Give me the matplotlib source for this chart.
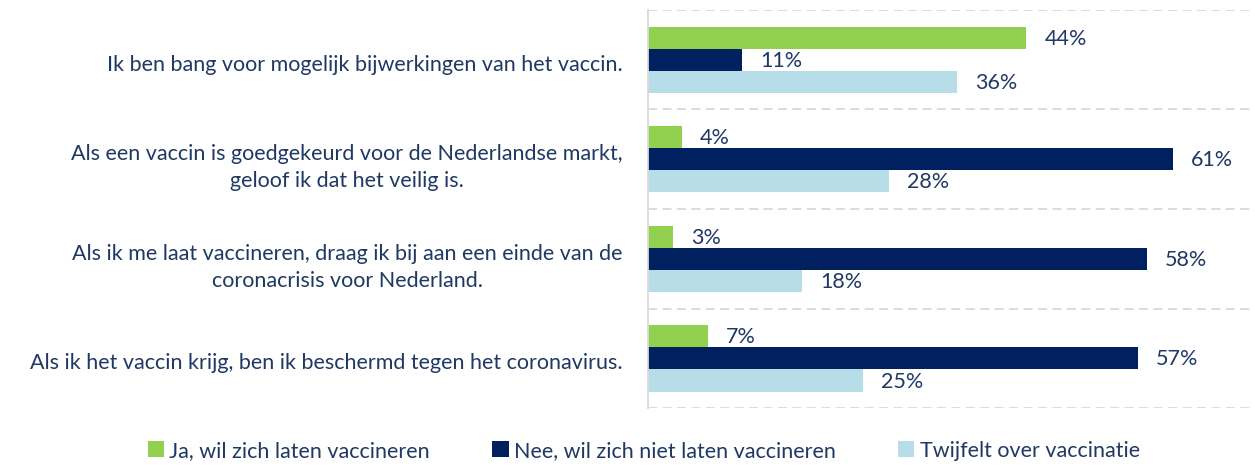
import matplotlib.pyplot as plt
import numpy as np

plt.rcParams['font.family'] = ['Lato', 'DejaVu Sans']

categories = [
    "Ik ben bang voor mogelijk bijwerkingen van het vaccin.",
    "Als een vaccin is goedgekeurd voor de Nederlandse markt,\ngeloof ik dat het veilig is.",
    "Als ik me laat vaccineren, draag ik bij aan een einde van de\ncoronacrisis voor Nederland.",
    "Als ik het vaccin krijg, ben ik beschermd tegen het coronavirus.",
]
series_names = ["Ja, wil zich laten vaccineren",
                "Nee, wil zich niet laten vaccineren",
                "Twijfelt over vaccinatie"]
ja = [44, 4, 3, 7]
nee = [11, 61, 58, 57]
twijfel = [36, 28, 18, 25]
colors = ["#92D050", "#002060", "#B7DEE8"]
text_col = "#1F3864"
fs = 15.5

fig = plt.figure(figsize=(12.55, 4.73), dpi=100)
ax = fig.add_axes([0.516, 0.137, 0.48, 0.842])

y = np.arange(len(categories))
h = 0.222
for i, (vals, c, name) in enumerate(zip([ja, nee, twijfel], colors, series_names)):
    pos = y + (i - 1) * h
    ax.barh(pos, vals, height=h, color=c, label=name)
    for p, v in zip(pos, vals):
        ax.text(v + 2.1, p + 0.01, f"{v}%", va='center', ha='left',
                fontsize=fs, color=text_col)

ax.set_xlim(0, 70)
ax.set_ylim(3.5, -0.5)
ax.set_xticks([])
ax.set_yticks(y + 0.03)
ax.set_yticklabels(categories, fontsize=fs, color=text_col,
                   multialignment='center', linespacing=1.45)
ax.tick_params(axis='y', length=0, pad=18)

for b in np.arange(-0.5, 4, 1):
    ax.axhline(b, color="#d9d9d9", lw=1.3, ls=(0, (5, 3)), zorder=0)
for s in ['top', 'right', 'bottom']:
    ax.spines[s].set_visible(False)
ax.spines['left'].set_color("#d9d9d9")
ax.spines['left'].set_linewidth(1.3)

leg = fig.legend(loc='lower center', bbox_to_anchor=(0.513, -0.015), ncol=3,
                 frameon=False, fontsize=fs, handlelength=0.75,
                 handleheight=0.75, handletextpad=0.25, columnspacing=2.9)
for t in leg.get_texts():
    t.set_color(text_col)

fig.savefig("out.png", dpi=100)
